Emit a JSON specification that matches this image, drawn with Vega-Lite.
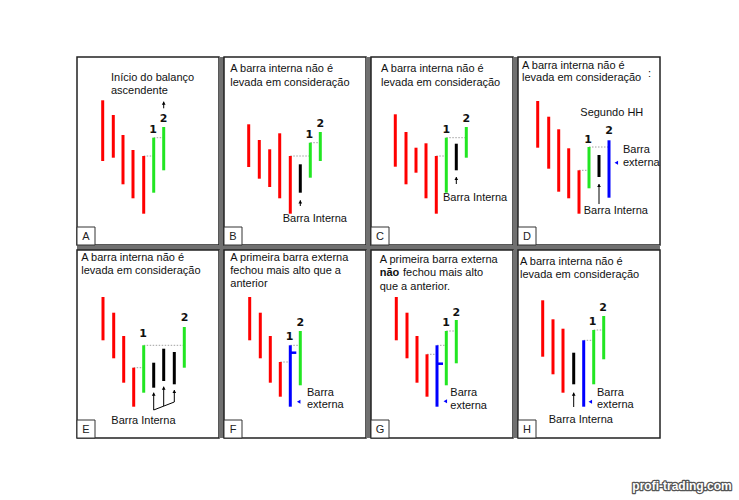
{
  "$schema": "https://vega.github.io/schema/vega-lite/v6.json",
  "padding": {"left": 75, "top": 56, "right": 5, "bottom": 5},
  "autosize": {"type": "pad"},
  "background": "white",
  "bounds": "flush",
  "spacing": 5,
  "columns": 4,
  "data": {"values": [
    {"panel": "A", "kind": "panel", "letter": "A", "col": 0, "row": 0},
    {"panel": "B", "kind": "panel", "letter": "B", "col": 1, "row": 0},
    {"panel": "C", "kind": "panel", "letter": "C", "col": 2, "row": 0},
    {"panel": "D", "kind": "panel", "letter": "D", "col": 3, "row": 0},
    {"panel": "E", "kind": "panel", "letter": "E", "col": 0, "row": 1},
    {"panel": "F", "kind": "panel", "letter": "F", "col": 1, "row": 1},
    {"panel": "G", "kind": "panel", "letter": "G", "col": 2, "row": 1},
    {"panel": "H", "kind": "panel", "letter": "H", "col": 3, "row": 1},

    {"panel": "A", "kind": "text", "x": 34, "y": 20.7, "text": "Início do balanço"},
    {"panel": "A", "kind": "text", "x": 34, "y": 34, "text": "ascendente"},
    {"panel": "A", "kind": "bar", "type": "baixa", "x": 25.7, "y": 43.3, "y2": 104},
    {"panel": "A", "kind": "bar", "type": "baixa", "x": 36.3, "y": 58, "y2": 100.7},
    {"panel": "A", "kind": "bar", "type": "baixa", "x": 46, "y": 78, "y2": 127.3},
    {"panel": "A", "kind": "bar", "type": "baixa", "x": 56, "y": 93, "y2": 141.3},
    {"panel": "A", "kind": "bar", "type": "baixa", "x": 66.7, "y": 99, "y2": 156.7},
    {"panel": "A", "kind": "bar", "type": "alta", "x": 76.7, "y": 80.7, "y2": 135.7},
    {"panel": "A", "kind": "bar", "type": "alta", "x": 86.7, "y": 70, "y2": 113.3},
    {"panel": "A", "kind": "level", "x": 66.7, "x2": 76.7, "y": 99},
    {"panel": "A", "kind": "level", "x": 76.7, "x2": 86.7, "y": 80.7},
    {"panel": "A", "kind": "num", "x": 76, "y": 73.3, "text": "1"},
    {"panel": "A", "kind": "num", "x": 86.7, "y": 62.3, "text": "2"},
    {"panel": "A", "kind": "arrow", "x": 86.7, "y": 44.7, "y2": 51.3},

    {"panel": "B", "kind": "text", "x": 6.3, "y": 12.3, "text": "A barra interna não é"},
    {"panel": "B", "kind": "text", "x": 6.3, "y": 25.7, "text": "levada em consideração"},
    {"panel": "B", "kind": "bar", "type": "baixa", "x": 24.7, "y": 67.3, "y2": 110},
    {"panel": "B", "kind": "bar", "type": "baixa", "x": 35.3, "y": 83, "y2": 121.7},
    {"panel": "B", "kind": "bar", "type": "baixa", "x": 45.7, "y": 92.3, "y2": 130},
    {"panel": "B", "kind": "bar", "type": "baixa", "x": 55.7, "y": 76.3, "y2": 141.3},
    {"panel": "B", "kind": "bar", "type": "baixa", "x": 66.3, "y": 99, "y2": 156.7},
    {"panel": "B", "kind": "bar", "type": "interna", "x": 76.3, "y": 107.3, "y2": 135.7},
    {"panel": "B", "kind": "bar", "type": "alta", "x": 86.3, "y": 85.7, "y2": 120.7},
    {"panel": "B", "kind": "bar", "type": "alta", "x": 96.3, "y": 75, "y2": 104},
    {"panel": "B", "kind": "level", "x": 66.3, "x2": 86.3, "y": 99},
    {"panel": "B", "kind": "level", "x": 86.3, "x2": 96.3, "y": 85.7},
    {"panel": "B", "kind": "num", "x": 85.3, "y": 78.3, "text": "1"},
    {"panel": "B", "kind": "num", "x": 96.3, "y": 67.3, "text": "2"},
    {"panel": "B", "kind": "arrow", "x": 76.3, "y": 143.3, "y2": 149},
    {"panel": "B", "kind": "text", "x": 58.7, "y": 162.3, "text": "Barra Interna"},

    {"panel": "C", "kind": "text", "x": 10, "y": 12.3, "text": "A barra interna não é"},
    {"panel": "C", "kind": "text", "x": 10, "y": 25.7, "text": "levada em consideração"},
    {"panel": "C", "kind": "bar", "type": "baixa", "x": 24.3, "y": 57.3, "y2": 109.7},
    {"panel": "C", "kind": "bar", "type": "baixa", "x": 35, "y": 75, "y2": 127.3},
    {"panel": "C", "kind": "bar", "type": "baixa", "x": 45, "y": 90.7, "y2": 115.7},
    {"panel": "C", "kind": "bar", "type": "baixa", "x": 55, "y": 86.3, "y2": 141.3},
    {"panel": "C", "kind": "bar", "type": "baixa", "x": 65.3, "y": 99, "y2": 156.7},
    {"panel": "C", "kind": "bar", "type": "alta", "x": 75.3, "y": 80.7, "y2": 135.7},
    {"panel": "C", "kind": "bar", "type": "interna", "x": 85.3, "y": 86.7, "y2": 113.3},
    {"panel": "C", "kind": "bar", "type": "alta", "x": 95.3, "y": 70, "y2": 100.7},
    {"panel": "C", "kind": "level", "x": 65.3, "x2": 75.3, "y": 99},
    {"panel": "C", "kind": "level", "x": 75.3, "x2": 95.3, "y": 80.7},
    {"panel": "C", "kind": "num", "x": 75.3, "y": 73.3, "text": "1"},
    {"panel": "C", "kind": "num", "x": 95.3, "y": 62.3, "text": "2"},
    {"panel": "C", "kind": "arrow", "x": 85.3, "y": 120, "y2": 127},
    {"panel": "C", "kind": "text", "x": 72, "y": 141.3, "text": "Barra Interna"},

    {"panel": "D", "kind": "text", "x": 4, "y": 9, "text": "A barra interna não é"},
    {"panel": "D", "kind": "text", "x": 4, "y": 21.3, "text": "levada em consideração"},
    {"panel": "D", "kind": "text", "x": 130, "y": 16.7, "text": ":"},
    {"panel": "D", "kind": "text", "x": 62.3, "y": 55.7, "text": "Segundo HH"},
    {"panel": "D", "kind": "bar", "type": "baixa", "x": 19.7, "y": 44, "y2": 90.7},
    {"panel": "D", "kind": "bar", "type": "baixa", "x": 30.7, "y": 59.7, "y2": 111.7},
    {"panel": "D", "kind": "bar", "type": "baixa", "x": 40.7, "y": 72.3, "y2": 134.7},
    {"panel": "D", "kind": "bar", "type": "baixa", "x": 50.7, "y": 91.3, "y2": 141.3},
    {"panel": "D", "kind": "bar", "type": "baixa", "x": 61, "y": 113.3, "y2": 156.7},
    {"panel": "D", "kind": "bar", "type": "alta", "x": 71, "y": 90, "y2": 131.3},
    {"panel": "D", "kind": "bar", "type": "interna", "x": 81, "y": 98, "y2": 120},
    {"panel": "D", "kind": "bar", "type": "externa", "x": 91, "y": 83.3, "y2": 140.7},
    {"panel": "D", "kind": "level", "x": 61, "x2": 71, "y": 113.3},
    {"panel": "D", "kind": "level", "x": 71, "x2": 91, "y": 90},
    {"panel": "D", "kind": "num", "x": 70, "y": 83.3, "text": "1"},
    {"panel": "D", "kind": "num", "x": 91, "y": 74, "text": "2"},
    {"panel": "D", "kind": "arrow", "x": 81, "y": 127, "y2": 147},
    {"panel": "D", "kind": "text", "x": 65.7, "y": 154, "text": "Barra Interna"},
    {"panel": "D", "kind": "text", "x": 105, "y": 93, "text": "Barra"},
    {"panel": "D", "kind": "text", "x": 105, "y": 105.7, "text": "externa"},
    {"panel": "D", "kind": "marker", "x": 98.3, "y": 105.7},

    {"panel": "E", "kind": "text", "x": 4.3, "y": 7.7, "text": "A barra interna não é"},
    {"panel": "E", "kind": "text", "x": 4.3, "y": 21, "text": "levada em consideração"},
    {"panel": "E", "kind": "bar", "type": "baixa", "x": 26, "y": 47, "y2": 90.3},
    {"panel": "E", "kind": "bar", "type": "baixa", "x": 36.7, "y": 62.7, "y2": 108.3},
    {"panel": "E", "kind": "bar", "type": "baixa", "x": 46.7, "y": 86, "y2": 132.7},
    {"panel": "E", "kind": "bar", "type": "baixa", "x": 56.7, "y": 117.7, "y2": 156.7},
    {"panel": "E", "kind": "bar", "type": "alta", "x": 66.7, "y": 95.3, "y2": 142.7},
    {"panel": "E", "kind": "bar", "type": "interna", "x": 76.7, "y": 112.7, "y2": 137.7},
    {"panel": "E", "kind": "bar", "type": "interna", "x": 86.7, "y": 98.7, "y2": 131},
    {"panel": "E", "kind": "bar", "type": "interna", "x": 97.3, "y": 102, "y2": 134.3},
    {"panel": "E", "kind": "bar", "type": "alta", "x": 107.3, "y": 77, "y2": 117.7},
    {"panel": "E", "kind": "level", "x": 56.7, "x2": 66.7, "y": 117.7},
    {"panel": "E", "kind": "level", "x": 66.7, "x2": 107.3, "y": 95.3},
    {"panel": "E", "kind": "num", "x": 66, "y": 84.3, "text": "1"},
    {"panel": "E", "kind": "num", "x": 107.7, "y": 67.7, "text": "2"},
    {"panel": "E", "kind": "arrow", "x": 76.7, "y": 142.7, "y2": 160},
    {"panel": "E", "kind": "arrow", "x": 86.7, "y": 136.7, "y2": 156},
    {"panel": "E", "kind": "arrow", "x": 97.3, "y": 140, "y2": 152},
    {"panel": "E", "kind": "link", "x": 76.7, "y": 160, "x2": 97.3, "y2": 152},
    {"panel": "E", "kind": "text", "x": 34.3, "y": 171, "text": "Barra Interna"},

    {"panel": "F", "kind": "text", "x": 6.3, "y": 7.7, "text": "A primeira barra externa"},
    {"panel": "F", "kind": "text", "x": 6.3, "y": 21, "text": "fechou mais alto que a"},
    {"panel": "F", "kind": "text", "x": 6.3, "y": 33.7, "text": "anterior"},
    {"panel": "F", "kind": "bar", "type": "baixa", "x": 25.7, "y": 47, "y2": 90.3},
    {"panel": "F", "kind": "bar", "type": "baixa", "x": 36.3, "y": 62.7, "y2": 108.3},
    {"panel": "F", "kind": "bar", "type": "baixa", "x": 46.3, "y": 86, "y2": 132.7},
    {"panel": "F", "kind": "bar", "type": "baixa", "x": 56.3, "y": 112, "y2": 146.7},
    {"panel": "F", "kind": "bar", "type": "externa", "x": 66.3, "y": 95.3, "y2": 156.7},
    {"panel": "F", "kind": "bar", "type": "alta", "x": 76.3, "y": 81, "y2": 135.3},
    {"panel": "F", "kind": "close", "x": 66.3, "x2": 72.3, "y": 102.7},
    {"panel": "F", "kind": "level", "x": 56.3, "x2": 66.3, "y": 112},
    {"panel": "F", "kind": "level", "x": 66.3, "x2": 76.3, "y": 95.3},
    {"panel": "F", "kind": "num", "x": 65.7, "y": 86.7, "text": "1"},
    {"panel": "F", "kind": "num", "x": 76.3, "y": 72.7, "text": "2"},
    {"panel": "F", "kind": "text", "x": 83, "y": 142.7, "text": "Barra"},
    {"panel": "F", "kind": "text", "x": 83, "y": 155.3, "text": "externa"},
    {"panel": "F", "kind": "marker", "x": 74.7, "y": 151.7},

    {"panel": "G", "kind": "text", "x": 8.7, "y": 10, "text": "A primeira barra externa"},
    {"panel": "G", "kind": "bold", "x": 8.7, "y": 22.7, "text": "não"},
    {"panel": "G", "kind": "text", "x": 32, "y": 22.7, "text": "fechou mais alto"},
    {"panel": "G", "kind": "text", "x": 8.7, "y": 36.7, "text": "que a anterior."},
    {"panel": "G", "kind": "bar", "type": "baixa", "x": 25.3, "y": 47, "y2": 90.3},
    {"panel": "G", "kind": "bar", "type": "baixa", "x": 36, "y": 62.7, "y2": 108.3},
    {"panel": "G", "kind": "bar", "type": "baixa", "x": 46, "y": 86, "y2": 132.7},
    {"panel": "G", "kind": "bar", "type": "baixa", "x": 56, "y": 104.3, "y2": 146.7},
    {"panel": "G", "kind": "bar", "type": "externa", "x": 66, "y": 95.3, "y2": 156.7},
    {"panel": "G", "kind": "bar", "type": "alta", "x": 75.3, "y": 81, "y2": 135.3},
    {"panel": "G", "kind": "bar", "type": "alta", "x": 85.3, "y": 70, "y2": 113.3},
    {"panel": "G", "kind": "close", "x": 66, "x2": 72, "y": 113.7},
    {"panel": "G", "kind": "level", "x": 56, "x2": 66, "y": 104.3},
    {"panel": "G", "kind": "level", "x": 66, "x2": 75.3, "y": 95.3},
    {"panel": "G", "kind": "level", "x": 75.3, "x2": 85.3, "y": 81},
    {"panel": "G", "kind": "num", "x": 75, "y": 73.3, "text": "1"},
    {"panel": "G", "kind": "num", "x": 85.3, "y": 63.3, "text": "2"},
    {"panel": "G", "kind": "text", "x": 79.3, "y": 142.7, "text": "Barra"},
    {"panel": "G", "kind": "text", "x": 79.3, "y": 156, "text": "externa"},
    {"panel": "G", "kind": "marker", "x": 74.3, "y": 151.3},

    {"panel": "H", "kind": "text", "x": 2, "y": 12, "text": "A barra interna não é"},
    {"panel": "H", "kind": "text", "x": 2, "y": 25.3, "text": "levada em consideração"},
    {"panel": "H", "kind": "bar", "type": "baixa", "x": 24.7, "y": 50.3, "y2": 106.7},
    {"panel": "H", "kind": "bar", "type": "baixa", "x": 35, "y": 69.3, "y2": 124.3},
    {"panel": "H", "kind": "bar", "type": "baixa", "x": 45, "y": 78.7, "y2": 142.7},
    {"panel": "H", "kind": "bar", "type": "interna", "x": 55.7, "y": 102.7, "y2": 134.3},
    {"panel": "H", "kind": "bar", "type": "externa", "x": 65.7, "y": 90.3, "y2": 156.7},
    {"panel": "H", "kind": "bar", "type": "alta", "x": 75.7, "y": 80, "y2": 134.3},
    {"panel": "H", "kind": "bar", "type": "alta", "x": 85.7, "y": 66, "y2": 109.3},
    {"panel": "H", "kind": "level", "x": 65.7, "x2": 75.7, "y": 90.3},
    {"panel": "H", "kind": "level", "x": 75.7, "x2": 85.7, "y": 80},
    {"panel": "H", "kind": "num", "x": 74.7, "y": 72, "text": "1"},
    {"panel": "H", "kind": "num", "x": 85, "y": 58.3, "text": "2"},
    {"panel": "H", "kind": "arrow", "x": 55.7, "y": 142.7, "y2": 157},
    {"panel": "H", "kind": "text", "x": 79, "y": 142.7, "text": "Barra"},
    {"panel": "H", "kind": "text", "x": 79, "y": 155.3, "text": "externa"},
    {"panel": "H", "kind": "text", "x": 30.7, "y": 170, "text": "Barra Interna"},
    {"panel": "H", "kind": "marker", "x": 72.3, "y": 151.7},
    {"panel": "H", "kind": "watermark", "x": 164, "y": 236, "text": "profi-trading.com"}
  ]},
  "facet": {"field": "panel", "type": "nominal", "title": null,
    "header": {"labelExpr": "''", "labelFontSize": 0, "labelPadding": 0, "labelColor": "transparent", "labelLimit": 1}},
  "spec": {
    "width": 142,
    "height": 188,
    "layer": [
      {
        "transform": [{"filter": "datum.kind === 'panel' && datum.col < 3"}],
        "mark": {"type": "rect", "fill": "#707070"},
        "encoding": {
          "x": {"datum": 142, "type": "quantitative", "scale": {"domain": [0, 142], "nice": false, "zero": false}, "axis": null},
          "x2": {"datum": 147},
          "y": {"datum": 0, "type": "quantitative", "scale": {"domain": [0, 188], "nice": false, "zero": false, "reverse": true}, "axis": null},
          "y2": {"datum": 188}
        }
      },
      {
        "transform": [{"filter": "datum.kind === 'panel' && datum.row === 0"}],
        "mark": {"type": "rect", "fill": "#707070"},
        "encoding": {
          "x": {"datum": 0, "type": "quantitative", "axis": null},
          "x2": {"datum": 142},
          "y": {"datum": 188, "type": "quantitative", "axis": null},
          "y2": {"datum": 193}
        }
      },
      {
        "transform": [{"filter": "datum.kind === 'panel' && datum.row === 0 && datum.col < 3"}],
        "mark": {"type": "rect", "fill": "#707070"},
        "encoding": {
          "x": {"datum": 142, "type": "quantitative", "axis": null},
          "x2": {"datum": 147},
          "y": {"datum": 188, "type": "quantitative", "axis": null},
          "y2": {"datum": 193}
        }
      },
      {
        "transform": [{"filter": "datum.kind === 'level'"}],
        "mark": {"type": "rule", "stroke": "#a0a0a0", "strokeWidth": 1, "strokeDash": [1.5, 1.5]},
        "encoding": {
          "x": {"field": "x", "type": "quantitative", "axis": null},
          "x2": {"field": "x2"},
          "y": {"field": "y", "type": "quantitative", "axis": null}
        }
      },
      {
        "transform": [{"filter": "datum.kind === 'bar'"}],
        "mark": {"type": "rule", "strokeWidth": 3, "strokeCap": "butt"},
        "encoding": {
          "x": {"field": "x", "type": "quantitative", "axis": null},
          "y": {"field": "y", "type": "quantitative", "axis": null},
          "y2": {"field": "y2"},
          "color": {"field": "type", "type": "nominal", "legend": null,
            "scale": {"domain": ["baixa", "alta", "interna", "externa"], "range": ["#ff0000", "#22e622", "#000000", "#0000ff"]}}
        }
      },
      {
        "transform": [{"filter": "datum.kind === 'close'"}],
        "mark": {"type": "rule", "stroke": "#0000ff", "strokeWidth": 2.5, "strokeCap": "butt"},
        "encoding": {
          "x": {"field": "x", "type": "quantitative", "axis": null},
          "x2": {"field": "x2"},
          "y": {"field": "y", "type": "quantitative", "axis": null}
        }
      },
      {
        "transform": [{"filter": "datum.kind === 'arrow'"}],
        "mark": {"type": "rule", "stroke": "#000000", "strokeWidth": 1},
        "encoding": {
          "x": {"field": "x", "type": "quantitative", "axis": null},
          "y": {"field": "y", "type": "quantitative", "axis": null},
          "y2": {"field": "y2"}
        }
      },
      {
        "transform": [{"filter": "datum.kind === 'link'"}],
        "mark": {"type": "rule", "stroke": "#000000", "strokeWidth": 1},
        "encoding": {
          "x": {"field": "x", "type": "quantitative", "axis": null},
          "x2": {"field": "x2"},
          "y": {"field": "y", "type": "quantitative", "axis": null},
          "y2": {"field": "y2"}
        }
      },
      {
        "transform": [{"filter": "datum.kind === 'arrow'"}],
        "mark": {"type": "point", "shape": "triangle-up", "filled": true, "color": "#000000", "size": 14, "opacity": 1, "yOffset": 1.5},
        "encoding": {
          "x": {"field": "x", "type": "quantitative", "axis": null},
          "y": {"field": "y", "type": "quantitative", "axis": null}
        }
      },
      {
        "transform": [{"filter": "datum.kind === 'marker'"}],
        "mark": {"type": "point", "shape": "triangle-left", "filled": true, "color": "#0000ff", "size": 16, "opacity": 1},
        "encoding": {
          "x": {"field": "x", "type": "quantitative", "axis": null},
          "y": {"field": "y", "type": "quantitative", "axis": null}
        }
      },
      {
        "transform": [{"filter": "datum.kind === 'panel'"}],
        "mark": {"type": "rect", "fill": "white", "stroke": "#333333", "strokeWidth": 1},
        "encoding": {
          "x": {"datum": 0, "type": "quantitative", "axis": null},
          "x2": {"datum": 18},
          "y": {"datum": 170, "type": "quantitative", "axis": null},
          "y2": {"datum": 188}
        }
      },
      {
        "transform": [{"filter": "datum.kind === 'panel'"}],
        "mark": {"type": "text", "font": "Liberation Sans", "fontSize": 11, "color": "#222222", "align": "center", "baseline": "middle"},
        "encoding": {
          "x": {"datum": 9, "type": "quantitative", "axis": null},
          "y": {"datum": 179.5, "type": "quantitative", "axis": null},
          "text": {"field": "letter"}
        }
      },
      {
        "transform": [{"filter": "datum.kind === 'text'"}],
        "mark": {"type": "text", "font": "Liberation Sans", "fontSize": 11, "color": "#111111", "align": "left", "baseline": "middle"},
        "encoding": {
          "x": {"field": "x", "type": "quantitative", "axis": null},
          "y": {"field": "y", "type": "quantitative", "axis": null},
          "text": {"field": "text"}
        }
      },
      {
        "transform": [{"filter": "datum.kind === 'bold'"}],
        "mark": {"type": "text", "font": "Liberation Sans", "fontSize": 11, "fontWeight": "bold", "color": "#111111", "align": "left", "baseline": "middle"},
        "encoding": {
          "x": {"field": "x", "type": "quantitative", "axis": null},
          "y": {"field": "y", "type": "quantitative", "axis": null},
          "text": {"field": "text"}
        }
      },
      {
        "transform": [{"filter": "datum.kind === 'num'"}],
        "mark": {"type": "text", "font": "DejaVu Sans", "fontSize": 11, "fontWeight": "bold", "color": "#111111", "align": "center", "baseline": "middle"},
        "encoding": {
          "x": {"field": "x", "type": "quantitative", "axis": null},
          "y": {"field": "y", "type": "quantitative", "axis": null},
          "text": {"field": "text"}
        }
      },
      {
        "transform": [{"filter": "datum.kind === 'watermark'"}],
        "mark": {"type": "text", "font": "Liberation Sans", "fontSize": 12, "fontWeight": "bold", "fill": "#555555", "stroke": "#555555", "strokeWidth": 2.5, "strokeJoin": "round", "align": "center", "baseline": "middle"},
        "encoding": {
          "x": {"field": "x", "type": "quantitative", "axis": null},
          "y": {"field": "y", "type": "quantitative", "axis": null},
          "text": {"field": "text"}
        }
      },
      {
        "transform": [{"filter": "datum.kind === 'watermark'"}],
        "mark": {"type": "text", "font": "Liberation Sans", "fontSize": 12, "fontWeight": "bold", "fill": "#ffffff", "align": "center", "baseline": "middle"},
        "encoding": {
          "x": {"field": "x", "type": "quantitative", "axis": null},
          "y": {"field": "y", "type": "quantitative", "axis": null},
          "text": {"field": "text"}
        }
      }
    ]
  },
  "config": {
    "view": {"stroke": "#222222", "strokeWidth": 1.5, "fill": "white"},
    "header": {"labelExpr": "''", "labelFontSize": 0, "labelPadding": 0, "labelColor": "transparent", "labelLimit": 1}
  }
}
